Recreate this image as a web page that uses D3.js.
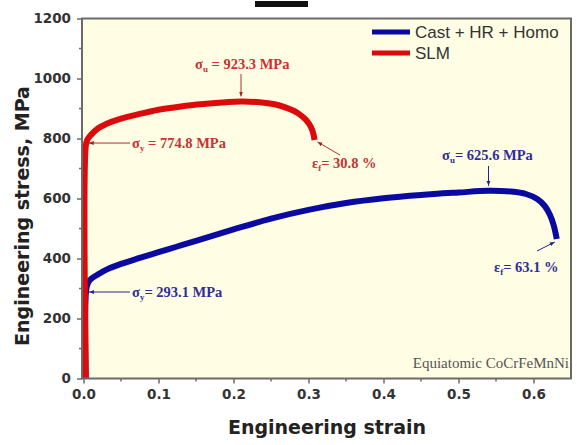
<!DOCTYPE html>
<html>
<head>
<meta charset="utf-8">
<script src="https://cdn.jsdelivr.net/npm/d3@7"></script>
<style>
  html, body { margin: 0; padding: 0; background: #ffffff; }
  svg { display: block; }
</style>
</head>
<body>
<svg id="chart" width="577" height="445"></svg>
<script>
// Tensile curves of equiatomic CoCrFeMnNi
const castStrain = [0.003, 0.0035, 0.006, 0.01, 0.02, 0.03, 0.05, 0.075, 0.1, 0.125, 0.15, 0.2, 0.25, 0.3, 0.35, 0.4, 0.45, 0.5, 0.54, 0.57, 0.59, 0.605, 0.615, 0.622, 0.627, 0.631];
const castStress = [0, 293.1, 318, 332, 348, 362, 382, 402, 421, 440, 459, 497, 533, 562, 585, 601, 612, 620, 625.6, 623, 615, 598, 575, 545, 510, 465];

const slmStrain = [0.003, 0.003, 0.005, 0.01, 0.02, 0.03, 0.05, 0.075, 0.1, 0.13, 0.16, 0.19, 0.21, 0.235, 0.255, 0.27, 0.285, 0.295, 0.301, 0.305, 0.307, 0.308];
const slmStress = [0, 774.8, 796, 812, 835, 848, 866, 882, 896, 907, 915, 921, 923.3, 921, 914, 903, 886, 866, 848, 828, 810, 795];

const seriesNames = ["Cast + HR + Homo", "SLM"];
const seriesColors = ["#0a0aa0", "#dc0a0a"];

const xTicks = [0, 0.1, 0.2, 0.3, 0.4, 0.5, 0.6];
const xMinorTicks = [0.05, 0.15, 0.25, 0.35, 0.45, 0.55];
const yTicks = [0, 200, 400, 600, 800, 1000, 1200];
const yMinorTicks = [100, 300, 500, 700, 900, 1100];

// key values quoted in the annotations
const castYield = 293.1, castUTS = 625.6, castUTSStrain = 0.54, castFracture = 0.631;
const slmYield = 774.8, slmUTS = 923.3, slmUTSStrain = 0.21, slmFracture = 0.308;

const svg = d3.select("#chart");
const x = d3.scaleLinear().domain([-0.002, 0.65]).range([82, 571]);
const y = d3.scaleLinear().domain([0, 1200]).range([378.5, 18.5]);

// plot background
svg.append("rect")
  .attr("x", x.range()[0]).attr("y", y.range()[1])
  .attr("width", x.range()[1] - x.range()[0])
  .attr("height", y.range()[0] - y.range()[1])
  .attr("fill", "#fffde4");

// short black bar above the frame
svg.append("rect").attr("x", 255).attr("y", 1).attr("width", 53).attr("height", 6).attr("fill", "#111");

const tickFont = "'DejaVu Sans', Verdana, sans-serif";
const axisColor = "#6a6a6a";

// bottom axis
const gx = svg.append("g").attr("transform", `translate(0,${y.range()[0]})`)
  .call(d3.axisBottom(x).tickValues(xTicks).tickSize(5).tickPadding(6).tickFormat(d3.format(".1f")));
gx.select(".domain").remove();
gx.selectAll("line").attr("stroke", axisColor).attr("stroke-width", 1.5);
gx.selectAll("text").attr("font-family", tickFont).attr("font-weight", "bold")
  .attr("font-size", 13.5).attr("fill", "#333");
svg.append("g").selectAll("line").data(xMinorTicks).join("line")
  .attr("x1", d => x(d)).attr("x2", d => x(d))
  .attr("y1", y.range()[0]).attr("y2", y.range()[0] + 3)
  .attr("stroke", axisColor).attr("stroke-width", 1.5);

// left axis
const gy = svg.append("g").attr("transform", `translate(${x.range()[0]},0)`)
  .call(d3.axisLeft(y).tickValues(yTicks).tickSize(5).tickPadding(6).tickFormat(d3.format("d")));
gy.select(".domain").remove();
gy.selectAll("line").attr("stroke", axisColor).attr("stroke-width", 1.5);
gy.selectAll("text").attr("font-family", tickFont).attr("font-weight", "bold")
  .attr("font-size", 13.5).attr("fill", "#333");
svg.append("g").selectAll("line").data(yMinorTicks).join("line")
  .attr("x1", x.range()[0] - 3).attr("x2", x.range()[0])
  .attr("y1", d => y(d)).attr("y2", d => y(d))
  .attr("stroke", axisColor).attr("stroke-width", 1.5);

// curves
const line = d3.line().x(d => x(d[0])).y(d => y(d[1])).curve(d3.curveCatmullRom.alpha(0.5));
const curves = [
  d3.zip(castStrain, castStress),
  d3.zip(slmStrain, slmStress)
];
svg.append("g").selectAll("path").data(curves).join("path")
  .attr("d", line)
  .attr("fill", "none")
  .attr("stroke", (d, i) => seriesColors[i])
  .attr("stroke-width", 6)
  .attr("stroke-linejoin", "round");

// frame
svg.append("rect")
  .attr("x", x.range()[0]).attr("y", y.range()[1])
  .attr("width", x.range()[1] - x.range()[0])
  .attr("height", y.range()[0] - y.range()[1])
  .attr("fill", "none").attr("stroke", axisColor).attr("stroke-width", 2);

// axis titles
svg.append("text").attr("x", 327).attr("y", 434).attr("text-anchor", "middle")
  .attr("font-family", tickFont).attr("font-weight", "bold").attr("font-size", 19).attr("fill", "#222")
  .text("Engineering strain");
svg.append("text").attr("transform", "translate(29,216) rotate(-90)").attr("text-anchor", "middle")
  .attr("font-family", tickFont).attr("font-weight", "bold").attr("font-size", 19).attr("fill", "#222")
  .text("Engineering stress, MPa");

// legend
const legend = svg.append("g").selectAll("g").data(seriesNames).join("g")
  .attr("transform", (d, i) => `translate(372,${32 + i * 21})`);
legend.append("line").attr("x1", 0).attr("x2", 38).attr("y1", 0).attr("y2", 0)
  .attr("stroke", (d, i) => seriesColors[i]).attr("stroke-width", 5);
legend.append("text").attr("x", 43).attr("y", 6)
  .attr("font-family", "'Liberation Sans', Arial, sans-serif").attr("font-size", 17).attr("fill", "#333")
  .text(d => d);

// annotations
const defs = svg.append("defs");
["red", "blue"].forEach((k, i) => {
  defs.append("marker").attr("id", "arrow-" + k)
    .attr("viewBox", "0 0 10 10").attr("refX", 10).attr("refY", 5)
    .attr("markerWidth", 5).attr("markerHeight", 5).attr("orient", "auto")
    .append("path").attr("d", "M0,1 L10,5 L0,9 Z")
    .attr("fill", i === 1 ? "#24248a" : "#a02020");
});
const annRed = "#c83232", annBlue = "#2e2e9a";
const serif = "'Liberation Serif', 'Times New Roman', serif";

function arrow(x1, y1, x2, y2, k) {
  svg.append("line").attr("x1", x1).attr("y1", y1).attr("x2", x2).attr("y2", y2)
    .attr("stroke", k === "blue" ? "#24248a" : "#b03030").attr("stroke-width", 1)
    .attr("marker-end", `url(#arrow-${k})`);
}
function label(px, py, sym, sub, rest, color) {
  const t = svg.append("text").attr("x", px).attr("y", py)
    .attr("font-family", serif).attr("font-weight", "bold").attr("font-size", 14.5)
    .attr("fill", color);
  t.append("tspan").text(sym);
  t.append("tspan").attr("font-size", 9).attr("dy", 3).text(sub);
  t.append("tspan").attr("dy", -3).text(rest);
}

// SLM ultimate strength
label(x(slmUTSStrain) - 46, 69, "σ", "u", " = " + slmUTS + " MPa", annRed);
arrow(x(slmUTSStrain), 74, x(slmUTSStrain), y(slmUTS) - 5, "red");
// SLM yield strength
label(132, 148, "σ", "y", " = " + slmYield + " MPa", annRed);
arrow(130, y(slmYield) - 3, x(0.003) + 3, y(slmYield) - 3, "red");
// SLM fracture strain
label(312, 168, "ε", "f", "= " + (slmFracture * 100).toFixed(1) + " %", annRed);
arrow(340, 155, x(slmFracture) + 3, y(795) + 2, "red");

// cast ultimate strength
label(442, 160, "σ", "u", "= " + castUTS + " MPa", annBlue);
arrow(x(castUTSStrain), 166, x(castUTSStrain), y(castUTS) - 5, "blue");
// cast yield strength
label(132, 297, "σ", "y", "= " + castYield + " MPa", annBlue);
arrow(130, 292, x(0.0035) + 3, 292, "blue");
// cast fracture strain
label(494, 272, "ε", "f", "= " + (castFracture * 100).toFixed(1) + " %", annBlue);
arrow(537, 251, x(castFracture) - 2, y(465) + 3, "blue");

// material note
svg.append("text").attr("x", 569).attr("y", 368).attr("text-anchor", "end")
  .attr("font-family", serif).attr("font-size", 15).attr("fill", "#555")
  .text("Equiatomic CoCrFeMnNi");
</script>
</body>
</html>
